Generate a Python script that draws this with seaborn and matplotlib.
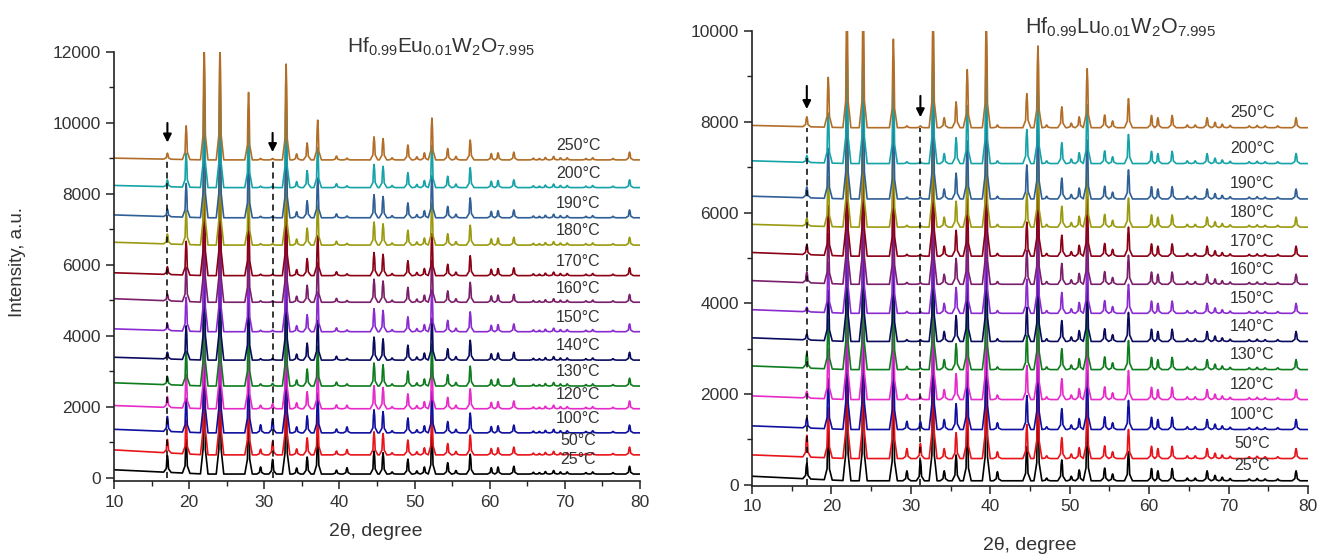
import numpy as np
import pandas as pd
import matplotlib
matplotlib.use("Agg")
import matplotlib.pyplot as plt
from matplotlib.ticker import MultipleLocator
import seaborn as sns

# ---------------- data ----------------
TEMPS = ["25°C", "50°C", "100°C", "120°C", "130°C", "140°C", "150°C",
         "160°C", "170°C", "180°C", "190°C", "200°C", "250°C"]
COLORS = ["#000000", "#E8141B", "#1010A0", "#E62BC8", "#0E7C1E", "#0B0B5E",
          "#8A2BD0", "#7A1F6A", "#8B0015", "#9A9A10", "#2F5F96", "#16A3A8",
          "#B26E28"]

# Left panel: Hf0.99Eu0.01W2O7.995
LEFT_OFFSET = [110, 650, 1270, 1950, 2590, 3320, 4120, 4950, 5700, 6560, 7330, 8180, 8960]
LEFT_BG = [120, 140, 100, 90, 90, 80, 80, 100, 80, 80, 80, 60, 50]
LEFT_PEAK_POS = [19.6, 22.0, 24.1, 27.9, 32.9, 34.3, 35.7, 37.1, 39.6, 44.6, 45.8,
                 47.0, 49.1, 50.3, 51.3, 52.3, 54.4, 55.5, 57.4, 60.2, 61.1, 63.2,
                 65.8, 66.6, 67.4, 68.5, 69.4, 70.3, 72.8, 73.7, 76.4, 78.6]
LEFT_PEAK_HT = [950, 3200, 3200, 1900, 2700, 170, 480, 1120, 110, 650, 600,
                60, 420, 90, 200, 1180, 320, 100, 560, 180, 200, 220,
                50, 40, 70, 100, 60, 60, 40, 60, 40, 220]
LEFT_VAR_POS = [17.1, 29.5, 31.1, 41.0]
LEFT_VAR_HT = [[470, 200, 410, 180], [380, 160, 380, 150], [420, 230, 400, 170],
               [310, 100, 140, 100], [230, 60, 75, 60], [190, 40, 50, 50],
               [190, 40, 40, 50], [190, 40, 40, 50], [220, 40, 40, 50],
               [280, 40, 40, 50], [215, 40, 40, 50], [190, 40, 40, 50],
               [170, 40, 40, 50]]
LEFT_MARK_X = [17.1, 31.1]
LEFT_ARROW_Y = [(10000, 9450), (9720, 9180)]

# Right panel: Hf0.99Lu0.01W2O7.995
RIGHT_OFFSET = [90, 580, 1220, 1880, 2540, 3160, 3780, 4420, 5040, 5680, 6300, 7080, 7870]
RIGHT_BG = [100, 80, 80, 80, 80, 80, 80, 80, 80, 60, 60, 60, 50]
RIGHT_PEAK_POS = [19.6, 21.95, 24.0, 27.8, 32.8, 34.2, 35.7, 37.1, 39.5, 44.6, 46.0,
                  47.1, 49.0, 50.2, 51.2, 52.2, 54.4, 55.4, 57.4, 60.3, 61.1, 62.9,
                  64.8, 65.8, 67.3, 68.3, 69.2, 70.2, 72.6, 73.6, 74.6, 76.2, 78.5]
RIGHT_PEAK_HT = [1100, 2700, 2700, 1950, 2600, 220, 570, 1280, 2400, 750, 1800,
                 60, 460, 100, 240, 1300, 280, 150, 640, 270, 220, 270,
                 60, 60, 220, 120, 80, 50, 40, 50, 40, 40, 220]
RIGHT_VAR_POS = [16.9, 29.5, 31.2, 40.9]
RIGHT_VAR_HT = [[350, 220, 450, 200], [480, 220, 330, 150], [220, 180, 180, 150],
                [150, 110, 70, 100], [330, 70, 40, 60], [130, 40, 40, 60],
                [100, 40, 40, 60], [240, 40, 40, 60], [220, 40, 40, 60],
                [170, 40, 40, 60], [240, 40, 40, 60], [150, 40, 40, 60],
                [220, 40, 40, 60]]
RIGHT_MARK_X = [16.9, 31.2]
RIGHT_ARROW_Y = [(8790, 8280), (8570, 8100)]


def build_pattern(pos, ht, var_pos, var_ht, offset, bg, w=0.5):
    peaks = sorted(zip(list(pos) + list(var_pos), list(ht) + list(var_ht)))
    centers = [p for p, _ in peaks]

    def base(x):
        return offset + bg * max(0.0, (22.0 - x) / 12.0)

    xs, ys = [10.0], [base(10.0)]
    for k, (p, h) in enumerate(peaks):
        wl = w if k == 0 else min(w, 0.5 * (p - centers[k - 1]) - 0.01)
        wr = w if k == len(peaks) - 1 else min(w, 0.5 * (centers[k + 1] - p) - 0.01)
        for dx, f in ((-wl, 0.0), (-0.3 * wl, 0.22), (-0.08, 0.75), (0.0, 1.0),
                      (0.08, 0.75), (0.3 * wr, 0.22), (wr, 0.0)):
            xs.append(p + dx)
            ys.append(base(p + dx) + f * h)
    xs.append(80.0)
    ys.append(base(80.0))
    return xs, ys


def build_frame(pos, ht, var_pos, var_ht, offsets, bgs):
    rows = []
    for i, t in enumerate(TEMPS):
        xs, ys = build_pattern(pos, ht, var_pos, var_ht[i], offsets[i], bgs[i])
        rows.append(pd.DataFrame({"x": xs, "y": ys, "temp": t}))
    return pd.concat(rows, ignore_index=True)


left_df = build_frame(LEFT_PEAK_POS, LEFT_PEAK_HT, LEFT_VAR_POS, LEFT_VAR_HT, LEFT_OFFSET, LEFT_BG)
right_df = build_frame(RIGHT_PEAK_POS, RIGHT_PEAK_HT, RIGHT_VAR_POS, RIGHT_VAR_HT, RIGHT_OFFSET, RIGHT_BG)

# ---------------- style ----------------
sns.set_theme(style="ticks")
plt.rcParams["font.family"] = ["Liberation Sans", "DejaVu Sans"]
plt.rcParams["mathtext.default"] = "regular"
TXT = "#333333"

fig = plt.figure(figsize=(13.2, 5.56), dpi=100)
axL = fig.add_axes([0.0864, 0.134, 0.3985, 0.7725])
axR = fig.add_axes([0.5697, 0.1255, 0.4212, 0.8187])

palette = dict(zip(TEMPS, COLORS))


def style_axis(ax, ymax, ymin):
    ax.set_xlim(10, 80)
    ax.set_ylim(ymin, ymax)
    ax.xaxis.set_major_locator(MultipleLocator(10))
    ax.xaxis.set_minor_locator(MultipleLocator(5))
    ax.yaxis.set_major_locator(MultipleLocator(2000))
    ax.yaxis.set_minor_locator(MultipleLocator(1000))
    ax.tick_params(axis="both", which="major", direction="out", length=6, width=1.1,
                   labelsize=12.5, colors="#222222", labelcolor=TXT)
    ax.tick_params(axis="both", which="minor", direction="out", length=3.5, width=1.0,
                   colors="#222222")
    for s in ("top", "right"):
        ax.spines[s].set_visible(False)
    for s in ("left", "bottom"):
        ax.spines[s].set_linewidth(1.2)
        ax.spines[s].set_color("#222222")
    ax.set_facecolor("white")


def draw_panel(ax, df, offsets, label_dy, label_x, mark_x, arrow_y, top_curve):
    sns.lineplot(data=df, x="x", y="y", hue="temp", hue_order=TEMPS, palette=palette,
                 units="temp", estimator=None, sort=False, lw=1.2, legend=False, ax=ax)
    for i, t in enumerate(TEMPS):
        ax.text(label_x, offsets[i] + label_dy, t, ha="center", va="center",
                fontsize=11.5, color=TXT)
    for xm, (y0, y1) in zip(mark_x, arrow_y):
        ax.plot([xm, xm], [0, top_curve], ls=(0, (4, 3)), color="black", lw=1.1)
        ax.annotate("", xy=(xm, y1), xytext=(xm, y0),
                    arrowprops=dict(arrowstyle="-|>", color="black", lw=1.5,
                                    mutation_scale=12, shrinkA=0, shrinkB=0))


draw_panel(axL, left_df, LEFT_OFFSET, 400, 71.8, LEFT_MARK_X, LEFT_ARROW_Y, LEFT_OFFSET[-1])
draw_panel(axR, right_df, RIGHT_OFFSET, 330, 73.0, RIGHT_MARK_X, RIGHT_ARROW_Y, RIGHT_OFFSET[-1])

style_axis(axL, 12000, -100)
style_axis(axR, 10000, -30)

axL.set_xlabel("2θ, degree", fontsize=14, color=TXT)
axL.set_ylabel("Intensity, a.u.", fontsize=13.5, color=TXT)
axL.xaxis.set_label_coords(0.498, -0.097)
axL.yaxis.set_label_coords(-0.168, 0.51)
axR.set_xlabel("2θ, degree", fontsize=14, color=TXT)
axR.set_ylabel("")
axR.xaxis.set_label_coords(0.5, -0.112)

axL.text(41.0, 11970, r"Hf$_{0.99}$Eu$_{0.01}$W$_2$O$_{7.995}$", fontsize=15,
         color=TXT, ha="left", va="baseline", clip_on=False)
axR.text(44.4, 9955, r"Hf$_{0.99}$Lu$_{0.01}$W$_2$O$_{7.995}$", fontsize=15.5,
         color=TXT, ha="left", va="baseline", clip_on=False)

fig.savefig("out.png", dpi=100, facecolor="white")
